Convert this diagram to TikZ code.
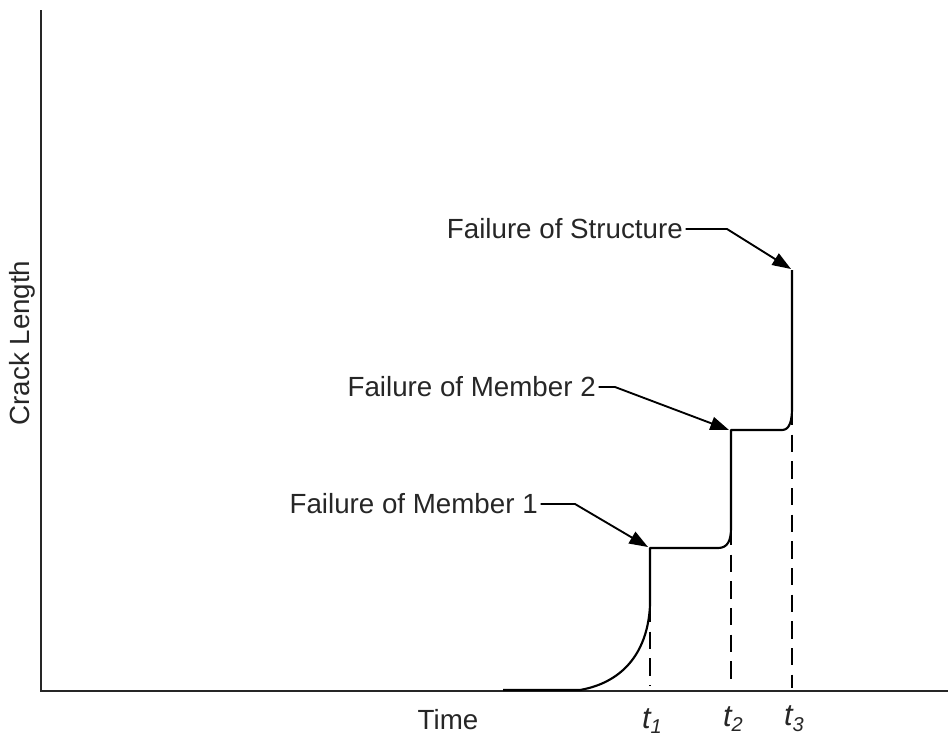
\documentclass[tikz,border=0pt]{standalone}
\usepackage{fontspec}
\setmainfont{Liberation Sans}
\usetikzlibrary{arrows.meta}
\begin{document}
\begin{tikzpicture}[x=0.75pt,y=-0.75pt,
  axisline/.style={line width=1.9pt,black!85},
  curveline/.style={line width=1.6pt,black,line join=round},
  guide/.style={line width=1.6pt,black,dash pattern=on 13pt off 7pt},
  callout/.style={line width=1.4pt,black,-{Triangle[length=14pt,width=10pt]}},
  lbl/.style={inner sep=0pt,text=black!85,font=\fontsize{20.8}{24}\selectfont},
  tlbl/.style={inner sep=0pt,text=black!85,font=\fontsize{23}{26}\selectfont\itshape}]
\useasboundingbox (0,0) rectangle (948,740);

% axes
\coordinate (O) at (41,691);
\coordinate (ytop) at (41,10);
\coordinate (xend) at (948,691);
\draw[axisline] (ytop) -- (O) -- (xend);

% crack growth curve
\coordinate (c0) at (503,690);
\coordinate (c1) at (580,690);
\coordinate (p1) at (650,605);
\coordinate (s1) at (650,548);
\coordinate (c2) at (718,548);
\coordinate (p2) at (731,528);
\coordinate (s2) at (731,430);
\coordinate (c3) at (782,430);
\coordinate (p3) at (792,408);
\coordinate (s3) at (792,270);
\draw[curveline] (c0) -- (c1) .. controls (625,682) and (648,650) .. (p1) -- (s1) -- (c2)
  .. controls (728,548) and (731,540) .. (p2) -- (s2) -- (c3)
  .. controls (790,430) and (792,420) .. (p3) -- (s3);

% dashed time markers
\coordinate (d1) at (650,686);
\coordinate (d2) at (731,688);
\coordinate (d3) at (792,688);
\draw[guide] (p1) -- (d1);
\draw[guide] (p2) -- (d2);
\draw[guide] (p3) -- (d3);

% labels and callouts
\node[lbl,anchor=east] (fs) at (683,229) {Failure of Structure};
\node[lbl,anchor=east] (fm2) at (596,387) {Failure of Member 2};
\node[lbl,anchor=east] (fm1) at (538,504) {Failure of Member 1};
\coordinate (k1) at (727,229);
\coordinate (k2) at (615,387);
\coordinate (k3) at (575,504);
\coordinate (a1) at (791,269);
\coordinate (a2) at (729,430);
\coordinate (a3) at (648,547);
\draw[callout] ([xshift=2pt]fs.east) -- (k1) -- (a1);
\draw[callout] ([xshift=2pt]fm2.east) -- (k2) -- (a2);
\draw[callout] ([xshift=2pt]fm1.east) -- (k3) -- (a3);

% axis titles
\node[lbl,rotate=90] (ylab) at (22,343) {Crack Length};
\node[lbl] (xlab) at (448,720) {Time};
\node[tlbl] (t1) at (652,721) {t\raisebox{-0.35ex}{\fontsize{15}{16}\selectfont 1}};
\node[tlbl] (t2) at (733,719) {t\raisebox{-0.35ex}{\fontsize{15}{16}\selectfont 2}};
\node[tlbl] (t3) at (794,719) {t\raisebox{-0.35ex}{\fontsize{15}{16}\selectfont 3}};
\end{tikzpicture}
\end{document}
